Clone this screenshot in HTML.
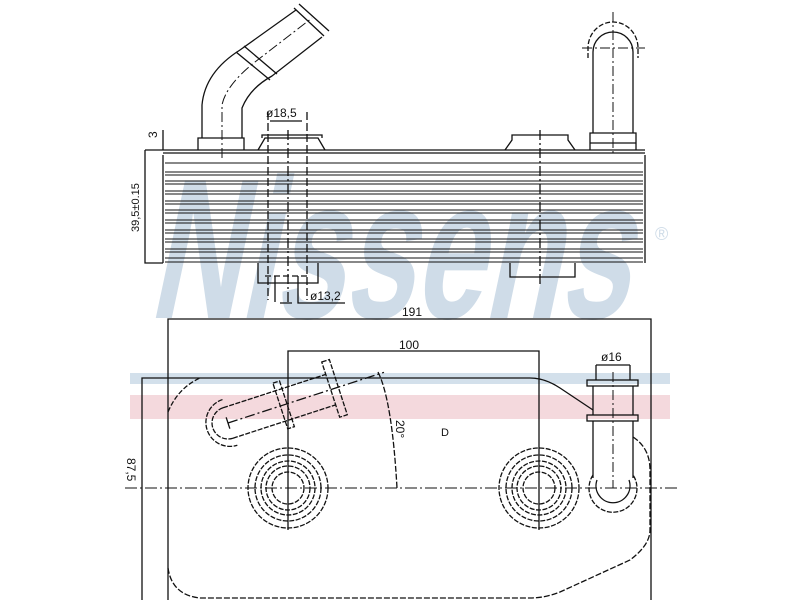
<!DOCTYPE html>
<html><head><meta charset="utf-8"><style>
html,body{margin:0;padding:0;background:#fff;width:800px;height:600px;overflow:hidden}
svg{display:block}
text{font-family:"Liberation Sans",sans-serif;fill:#111}
</style></head><body>
<svg width="800" height="600" viewBox="0 0 800 600" xmlns="http://www.w3.org/2000/svg">
<g transform="skewX(-12)">
<text x="215" y="318" font-size="200" font-weight="bold" textLength="480" lengthAdjust="spacingAndGlyphs" style="fill:#cfdce8">Nissens</text>
</g>
<text x="655" y="240" font-size="18" style="fill:#cfdce8">®</text>
<rect x="130" y="373" width="540" height="11" fill="#d3e0eb"/>
<rect x="130" y="395" width="540" height="24" fill="#f4d9dd"/>

<g fill="none" stroke="#111" stroke-width="1.3">
<line x1="163" y1="150" x2="645" y2="150"/>
<line x1="163" y1="153" x2="645" y2="153"/>
<path d="M163,155 L163,263 M645,155 L645,263"/>
<g stroke-width="1">
<line x1="165" y1="163" x2="643" y2="163"/>
<line x1="165" y1="172" x2="643" y2="172"/><line x1="165" y1="175" x2="643" y2="175"/>
<line x1="165" y1="181" x2="643" y2="181"/><line x1="165" y1="184" x2="643" y2="184"/>
<line x1="165" y1="191" x2="643" y2="191"/><line x1="165" y1="194" x2="643" y2="194"/>
<line x1="165" y1="201" x2="643" y2="201"/><line x1="165" y1="204" x2="643" y2="204"/>
<line x1="165" y1="210" x2="643" y2="210"/><line x1="165" y1="213" x2="643" y2="213"/>
<line x1="165" y1="220" x2="643" y2="220"/><line x1="165" y1="223" x2="643" y2="223"/>
<line x1="165" y1="230" x2="643" y2="230"/><line x1="165" y1="233" x2="643" y2="233"/>
<line x1="165" y1="239" x2="643" y2="239"/><line x1="165" y1="242" x2="643" y2="242"/>
<line x1="165" y1="249" x2="643" y2="249"/><line x1="165" y1="252" x2="643" y2="252"/>
<line x1="165" y1="258" x2="643" y2="258"/><line x1="165" y1="262" x2="643" y2="262"/>
</g>
<path d="M145,150 L145,263 L163,263 M145,150 L163,150"/>
<path d="M163,150 L163,130"/>
<path d="M258,150 L265,138 L318,138 L325,150 M262,138 L262,135 L322,135 L322,138"/>
<path d="M258,263 L258,283 L318,283 L318,263"/>
<path d="M268,112 L268,300 M307,112 L307,300" stroke-dasharray="8,3"/>
<path d="M288,130 L288,305" stroke-dasharray="10,3,2,3"/>
<path d="M265,276 L307,276" stroke-dasharray="6,3"/>
<path d="M275,276 L275,302 M298,276 L298,303 L345,303 M280,303 L292,303"/>
<line x1="270" y1="121" x2="302" y2="121"/>
<path d="M505,150 L512,140 L512,135 L568,135 L568,140 L575,150"/>
<path d="M510,263 L510,277 L575,277 L575,263"/>
<path d="M540,130 L540,285" stroke-dasharray="10,3,2,3"/>
<path d="M198,150 L198,138 L244,138 L244,150"/>
<path d="M202,138 L202,105 Q205,72 240,50 L296,10"/>
<path d="M242,138 L242,108 Q250,88 272,76 L322,37"/>
<path d="M236,52 L270,80 M244,46 L277,74"/>
<path d="M294,8 L324,36 M299,4 L329,31"/>
<path d="M222,158 L222,105 Q226,85 255,62 L312,18" stroke-dasharray="10,3,2,3" stroke-width="1"/>
<path d="M590,150 L590,133 L636,133 L636,150 M590,143 L636,143"/>
<path d="M593,133 L593,52 A20,20 0 0 1 633,52 L633,133"/>
<path d="M588,58 L588,48 A25,26 0 0 1 638,48 L638,58" stroke-dasharray="5,2"/>
<path d="M613,12 L613,155 M582,48 L645,48" stroke-dasharray="10,3,2,3" stroke-width="1"/>

<path d="M168,600 L168,319 L651,319 L651,600"/>
<path d="M288,530 L288,351 L539,351 L539,530"/>
<path d="M142,600 L142,378 L530,378"/>
<path d="M168,412 Q178,388 200,378" stroke-dasharray="5,2"/>
<path d="M530,378 Q545,378 560,388 L593,410"/>
<path d="M633,437 Q650,448 650,470 L650,530 Q650,545 630,560 L560,592 Q545,598 530,598 L200,598 Q172,595 168,568" stroke-dasharray="6,2"/>
<path d="M125,488 L680,488" stroke-dasharray="12,3,2,3" stroke-width="1"/>
<g stroke-dasharray="5,1.5">
<circle cx="288" cy="488" r="40"/><circle cx="288" cy="488" r="33"/><circle cx="288" cy="488" r="27"/><circle cx="288" cy="488" r="22"/><circle cx="288" cy="488" r="16"/>
<circle cx="539" cy="488" r="40"/><circle cx="539" cy="488" r="33"/><circle cx="539" cy="488" r="27"/><circle cx="539" cy="488" r="22"/><circle cx="539" cy="488" r="16"/>
</g>
<g transform="rotate(-18 228 423)" stroke-dasharray="5,1.5">
<path d="M228,407 L336,407 M228,439 L336,439"/>
<path d="M228,407 A16,16 0 0 0 228,439"/>
<path d="M230,399 A24,24 0 0 0 230,447"/>
<rect x="283" y="399" width="7" height="48"/>
<rect x="336" y="394" width="8" height="58"/>
<path d="M228,423 L392,423" stroke-dasharray="10,3,2,3"/>
<path d="M228,417 L228,429" stroke-dasharray="none"/>
</g>
<path d="M378,372 Q392,400 397,488" stroke-dasharray="6,2"/>
<path d="M596,365 L596,380 M630,365 L630,380 M596,365 L630,365"/>
<rect x="587" y="380" width="51" height="6"/>
<rect x="587" y="415" width="51" height="6"/>
<path d="M593,386 L593,415 M633,386 L633,415"/>
<path d="M593,421 L593,478 M633,421 L633,478"/>
<path d="M593,475 A24,24 0 1 0 633,475" stroke-dasharray="5,1.5"/>
<path d="M597,480 A17,17 0 1 0 629,480"/>
<path d="M613,372 L613,488" stroke-dasharray="10,3,2,3" stroke-width="1"/>
</g>

<text x="266" y="117" font-size="12">ø18,5</text>
<text x="310" y="300" font-size="12">ø13,2</text>
<text x="157" y="138" font-size="12" transform="rotate(-90 157 138)">3</text>
<text x="139" y="232" font-size="11" transform="rotate(-90 139 232)">39,5±0.15</text>
<text x="402" y="316" font-size="12">191</text>
<text x="399" y="349" font-size="12">100</text>
<text x="601" y="361" font-size="12">ø16</text>
<text x="441" y="436" font-size="11">D</text>
<text x="396" y="420" font-size="12" transform="rotate(90 396 420)">20°</text>
<text x="127" y="458" font-size="12" transform="rotate(90 127 458)">87,5</text>
</svg>
</body></html>
